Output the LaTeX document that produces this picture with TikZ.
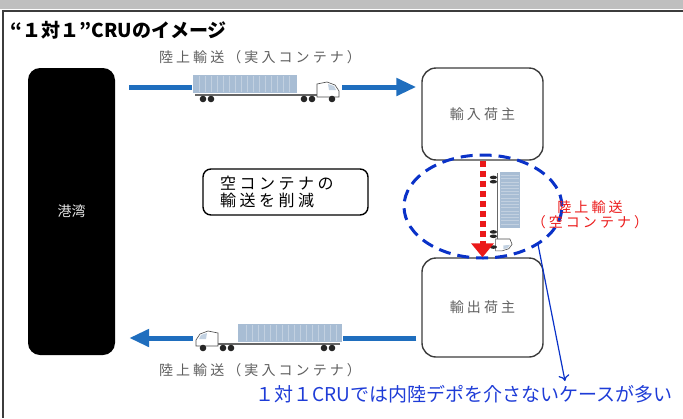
\documentclass[tikz,border=0pt]{standalone}
\usepackage{fontspec}
\setmainfont{Noto Sans CJK JP}
\newfontfamily\widefont[LetterSpace=22]{Noto Sans CJK JP}
\newfontfamily\boxfont[LetterSpace=22]{Noto Sans CJK JP}
\usetikzlibrary{positioning, shapes.geometric, arrows.meta}

\definecolor{flowblue}{RGB}{31,110,190}
\definecolor{ringblue}{RGB}{10,50,200}
\definecolor{noteblue}{RGB}{30,60,215}
\definecolor{emptyred}{RGB}{235,25,25}
\definecolor{labelgray}{RGB}{95,95,95}
\definecolor{boxgray}{RGB}{60,60,60}
\definecolor{boxblue}{RGB}{168,189,212}

\tikzset{
  port/.style={fill=black, rounded corners=12pt, minimum width=87pt, minimum height=287pt,
    text=gray!20, font=\fontsize{14}{16}\selectfont},
  shipper/.style={draw=boxgray, line width=1.4pt, rounded corners=14pt, minimum width=121pt,
    text=labelgray, font=\widefont\fontsize{14}{16}\selectfont},
  lane label/.style={text=labelgray, font=\widefont\fontsize{14}{16}\selectfont},
  note box/.style={draw=black, line width=1.4pt, rounded corners=8pt, align=left,
    text width=131pt, inner xsep=17pt, minimum height=46pt,
    font=\boxfont\fontsize{16}{17}\selectfont},
  flow/.style={flowblue, line width=5pt, -{Triangle[width=17pt,length=20pt]}},
  truck/.pic={
    % keep the lane line out from under the rig
    \fill[white] (-1,-13) rectangle (149,16);
    % container
    \fill[boxblue] (0,-12) rectangle (104,6);
    \foreach \x in {6,12,...,100}
      \draw[white, opacity=.3, line width=.4pt] (\x,-11) -- (\x,5);
    % chassis
    \draw[black!60, line width=1.2pt] (2,8) -- (132,8);
    \foreach \x in {10,18}
      \fill[black!85] (\x,12) circle[radius=3.3pt];
    % cab
    \filldraw[fill=white, draw=black!70, line width=.6pt]
      (124,10) -- (124,-3) -- (134,-5) -- (142,-2) -- (146,4) -- (146,10) -- cycle;
    \fill[boxblue!70!white] (135,-3) -- (141,-1) -- (143,3) -- (136,3) -- cycle;
    \foreach \x in {111,119,139}
      \fill[black!85] (\x,12) circle[radius=3.3pt];
  }
}

\begin{document}
\begin{tikzpicture}[x=1pt, y=-1pt]
  \useasboundingbox (0,0) rectangle (683,418);

  % frame
  \fill[gray!50] (0,0) rectangle (683,9);
  \draw[boxgray, line width=2pt] (683,10.5) -- (2.5,10.5) -- (2.5,418);

  \node[anchor=base west, font=\bfseries\fontsize{19}{23}\selectfont] (title) at (7,37) {“１対１”CRUのイメージ};

  \node[port]                           (port)   at (71.5,211.5) {港湾};
  \node[shipper, minimum height=92pt]   (import) at (482.5,114)  {輸入荷主};
  \node[shipper, minimum height=99pt]   (export) at (482.5,307.5) {輸出荷主};
  \node[note box]                       (cut)    at (285.5,192)  {空コンテナの\\輸送を削減};

  \coordinate (top)    at (0,87);
  \coordinate (bottom) at (0,338);
  \coordinate (tip)    at (565,381);

  \draw[flow, shorten <=14pt, shorten >=5pt] (port.east |- top) -- (import.west |- top);
  \draw[flow, shorten <=5pt, shorten >=14pt] (export.west |- bottom) -- (port.east |- bottom);

  \pic at (193,87) {truck};
  \pic[xscale=-1] at (342,336) {truck};
  \pic[rotate=-90, xscale=0.54, yscale=1.1] at (506.6,172) {truck};

  \node[lane label] (inlabel)  at (260,57)  {陸上輸送（実入コンテナ）};
  \node[lane label] (outlabel) at (260,370) {陸上輸送（実入コンテナ）};

  \node[ellipse, draw=ringblue, line width=3pt, dash pattern=on 12pt off 7pt,
        minimum width=158pt, minimum height=103pt] (empty) at (483,206.5) {};

  \draw[emptyred, line width=6pt, dash pattern=on 6pt off 4pt,
        -{Triangle[width=22pt,length=14pt]}] (import.south) -- (export.north);

  \node[text=emptyred, align=center, font=\widefont\fontsize{14}{15}\selectfont]
    (emptylabel) at (590,215) {陸上輸送\\（空コンテナ）};

  \draw[ringblue, line width=1.2pt, -{To[length=6pt,width=11pt]}] (empty.-35) -- (tip);

  \node[anchor=base west, text=noteblue, font=\fontsize{19}{22}\selectfont]
    (note) at (252,401) {１対１CRUでは内陸デポを介さないケースが多い};
\end{tikzpicture}
\end{document}
